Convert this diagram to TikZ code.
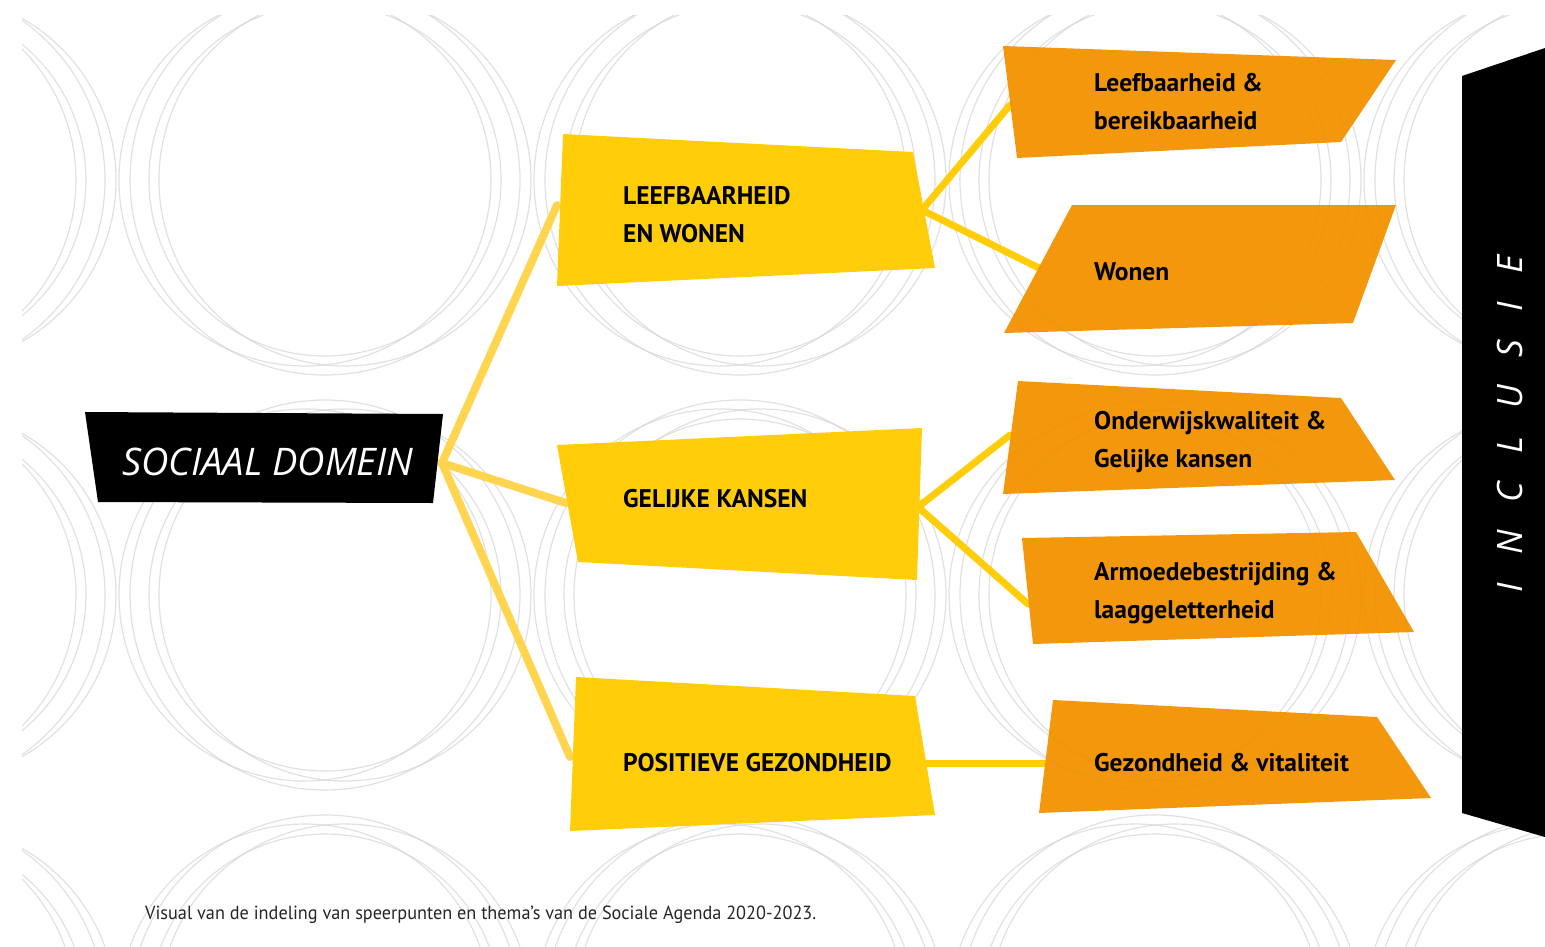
\documentclass[tikz,border=0pt]{standalone}
\usepackage{fontspec}
\setmainfont{PT Sans}
\newfontfamily\handfont{Open Sans}
\usetikzlibrary{positioning}
\definecolor{agyellow}{HTML}{FFCD0A}
\definecolor{agorange}{HTML}{F29200}
\definecolor{aglink}{HTML}{FFD54F}
\definecolor{agring}{HTML}{D4D4D4}
\tikzset{
  ring/.style={draw=agring, line width=1.2pt, opacity=0.7},
  themebox/.style={fill=agyellow},
  subbox/.style={fill=agorange, fill opacity=0.95},
  blackbox/.style={fill=black},
  themetxt/.style={anchor=west, inner sep=0pt, align=left,
    font=\bfseries\fontsize{25.5}{38}\selectfont},
  link/.style={draw=aglink, line width=8pt, line cap=round},
  sublink/.style={draw=agyellow, line width=7pt, line cap=round},
}
\begin{document}
\begin{tikzpicture}[x=1pt, y=-1pt]
  \useasboundingbox (0,0) rectangle (1545,946);
  % ring pattern in the background
  \begin{scope}
    \clip (22,15) rectangle (1545,946);
    \foreach \cx in {-90,325,740,1155,1570}
      \foreach \cy in {180,595,1010}
        \foreach \dx/\r in {-20/186,0/195,20/186,0/176}
          \draw[ring] (\cx+\dx,\cy) circle[radius=\r];
  \end{scope}

  % connector ends
  \coordinate (sd-e) at (442,463);
  \coordinate (lw-w) at (557,205);
  \coordinate (gk-w) at (566,503);
  \coordinate (pg-w) at (570,757);
  \coordinate (lw-e) at (922,210);
  \coordinate (gk-e) at (918,507);
  \coordinate (pg-e) at (922,763);
  \coordinate (lb-w) at (1010,105);
  \coordinate (wo-w) at (1039,268);
  \coordinate (ok-w) at (1010,435);
  \coordinate (ar-w) at (1028,604);
  \coordinate (gv-w) at (1045,763);

  \draw[link] (sd-e) -- (lw-w);
  \draw[link] (sd-e) -- (gk-w);
  \draw[link] (sd-e) -- (pg-w);
  \draw[sublink] (lw-e) -- (lb-w);
  \draw[sublink] (lw-e) -- (wo-w);
  \draw[sublink] (gk-e) -- (ok-w);
  \draw[sublink] (gk-e) -- (ar-w);
  \draw[sublink] (pg-e) -- (gv-w);

  % boxes
  \fill[blackbox] (85,412) -- (443,414) -- (433,503) -- (98,502) -- cycle;
  \fill[themebox] (563,134) -- (913,152) -- (935,268) -- (557,286) -- cycle;
  \fill[themebox] (557,445) -- (922,428) -- (917,580) -- (578,562) -- cycle;
  \fill[themebox] (576,677) -- (915,696) -- (935,815) -- (570,831) -- cycle;
  \fill[subbox] (1003,46) -- (1396,60) -- (1341,142) -- (1017,158) -- cycle;
  \fill[subbox] (1072,205) -- (1396,205) -- (1353,323) -- (1004,333) -- cycle;
  \fill[subbox] (1018,381) -- (1341,398) -- (1395,480) -- (1003,494) -- cycle;
  \fill[subbox] (1022,538) -- (1356,532) -- (1414,632) -- (1033,644) -- cycle;
  \fill[subbox] (1053,700) -- (1377,717) -- (1431,798) -- (1039,813) -- cycle;
  \fill[blackbox] (1462,76) -- (1545,48) -- (1545,837) -- (1462,813) -- cycle;

  % texts
  \node[text=white, inner sep=0pt, font=\handfont\itshape\fontsize{38}{40}\selectfont]
    (sociaal) at (268,462) {SOCIAAL DOMEIN};
  \node[themetxt] (leefwonen) at (623,215) {LEEFBAARHEID\\EN WONEN};
  \node[themetxt] (gelijk)    at (623,499) {GELIJKE KANSEN};
  \node[themetxt] (gezond)    at (623,763) {POSITIEVE GEZONDHEID};
  \node[themetxt] (leefbaar)  at (1094,102) {Leefbaarheid \&\\bereikbaarheid};
  \node[themetxt] (wonen)     at (1094,272) {Wonen};
  \node[themetxt] (onderwijs) at (1094,442) {Onderwijskwaliteit \&\\Gelijke kansen};
  \node[themetxt] (armoede)   at (1094,593) {Armoedebestrijding \&\\laaggeletterheid};
  \node[themetxt] (vitaal)    at (1094,763) {Gezondheid \& vitaliteit};
  \node[text=white, rotate=90, inner sep=0pt,
    font=\handfont\itshape\fontsize{35}{36}\selectfont\addfontfeature{LetterSpace=80}]
    (inclusie) at (1510,424) {INCLUSIE};
  \node[anchor=west, inner sep=0pt, text=black!85,
    font=\fontsize{19}{22}\selectfont\addfontfeature{FakeStretch=0.96}]
    (bijschrift) at (145,915) {Visual van de indeling van speerpunten en thema’s van de Sociale Agenda 2020-2023.};
\end{tikzpicture}
\end{document}
